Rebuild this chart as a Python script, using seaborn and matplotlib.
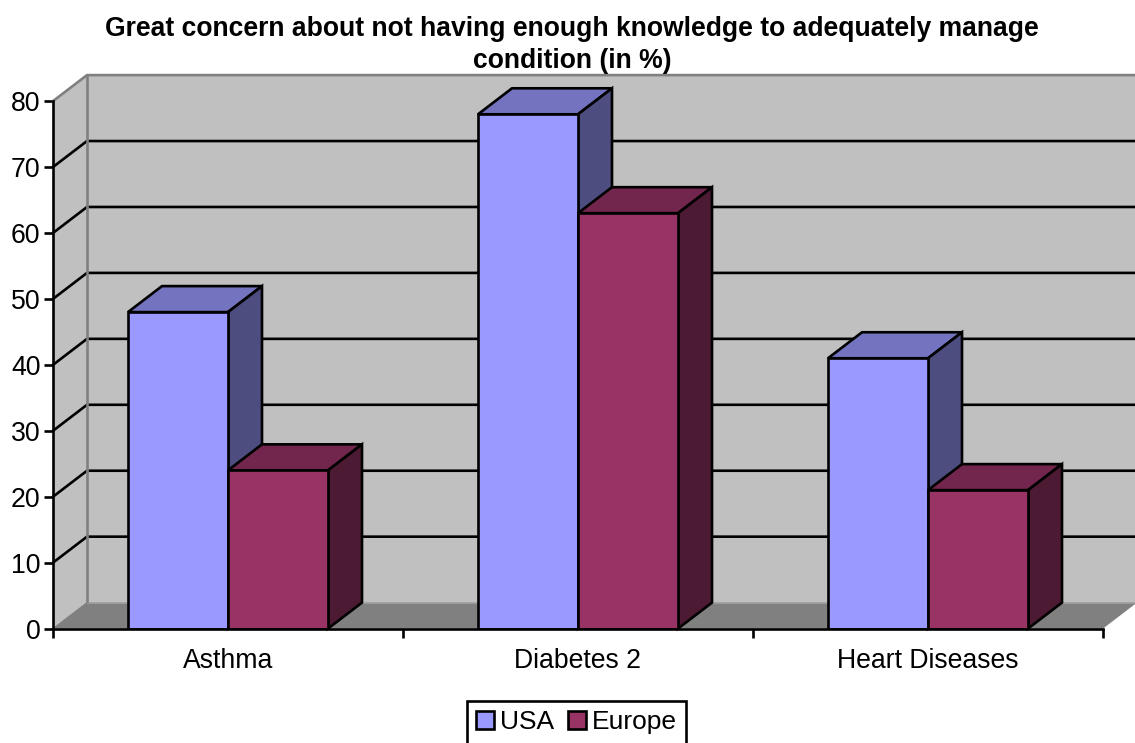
import matplotlib
matplotlib.use("Agg")
import matplotlib.pyplot as plt
from matplotlib.patches import Polygon
import pandas as pd
import seaborn as sns

conditions = ["Asthma", "Diabetes 2", "Heart Diseases"]
usa = [48, 78, 41]
europe = [24, 63, 21]
y_ticks = [0, 10, 20, 30, 40, 50, 60, 70, 80]
title = "Great concern about not having enough knowledge to adequately manage\ncondition (in %)"

FRONT = {"USA": "#9999FF", "Europe": "#993366"}
TOP = {"USA": "#7373BF", "Europe": "#73264D"}
SIDE = {"USA": "#4D4D80", "Europe": "#4D1A33"}
WALL = "#C0C0C0"
FLOOR = "#808080"
EDGE_W = 1.9

sns.set_style("white")
plt.rcParams["font.family"] = ["Liberation Sans", "DejaVu Sans"]
plt.rcParams["text.color"] = "black"
plt.rcParams["xtick.labelcolor"] = "black"
plt.rcParams["ytick.labelcolor"] = "black"

W, H = 1135, 743
fig = plt.figure(figsize=(W / 100, H / 100), dpi=100, facecolor="white")
ax = fig.add_axes([53 / W, (H - 628.6) / H, 1050 / W, 527.5 / H])

df = pd.DataFrame({
    "condition": conditions * 2,
    "pct": usa + europe,
    "region": ["USA"] * 3 + ["Europe"] * 3,
})
sns.barplot(data=df, x="condition", y="pct", hue="region", hue_order=["USA", "Europe"],
            palette=FRONT, saturation=1, width=200 / 350, gap=0, errorbar=None,
            edgecolor="black", linewidth=EDGE_W, ax=ax)

ax.set_xlim(-0.5, 2.5)
ax.set_ylim(0, 80)
ax.patch.set_visible(False)

# Oblique depth of the pseudo-3D box, expressed in data units
dx = 34 / 350
dy = 26 / (527.5 / 80)
x0, x1 = ax.get_xlim()
y0, y1 = ax.get_ylim()

ax.add_patch(Polygon([(x0 + dx, y0 + dy), (x1 + dx, y0 + dy), (x1 + dx, y1 + dy), (x0 + dx, y1 + dy)],
                     fc=WALL, ec="none", clip_on=False, zorder=0.1))
ax.add_patch(Polygon([(x0, y0), (x0 + dx, y0 + dy), (x0 + dx, y1 + dy), (x0, y1)],
                     fc=WALL, ec="none", clip_on=False, zorder=0.1))
ax.add_patch(Polygon([(x0, y0), (x0 + dx, y0 + dy), (x1 + dx, y0 + dy), (x1, y0)],
                     fc=FLOOR, ec="none", clip_on=False, zorder=0.2))

# Gridlines wrap from the side wall onto the back wall
for v in y_ticks[1:-1]:
    ax.plot([x0, x0 + dx, x1 + dx], [v, v + dy, v + dy], color="black", lw=EDGE_W,
            clip_on=False, zorder=0.5, solid_joinstyle="miter")
ax.plot([x0, x0 + dx, x1 + dx], [y1, y1 + dy, y1 + dy], color=FLOOR, lw=EDGE_W, clip_on=False, zorder=0.6)
ax.plot([x0 + dx, x0 + dx], [y0 + dy, y1 + dy], color=FLOOR, lw=EDGE_W, clip_on=False, zorder=0.6)
ax.plot([x0, x0 + dx], [y0, y0 + dy], color=FLOOR, lw=0.8, clip_on=False, zorder=0.6)
ax.plot([x0 + dx, x1 + dx], [y0 + dy, y0 + dy], color="#999999", lw=0.8, clip_on=False, zorder=0.6)

# Extrude every bar: top and side faces come from the bar's own geometry
for i, (container, region) in enumerate(zip(ax.containers, ["USA", "Europe"])):
    for bar in container:
        left, right = bar.get_x(), bar.get_x() + bar.get_width()
        h = bar.get_height()
        bar.set_zorder(4 + 2 * i)
        bar.set_joinstyle("miter")
        ax.add_patch(Polygon([(left, h), (left + dx, h + dy), (right + dx, h + dy), (right, h)],
                             fc=TOP[region], ec="black", lw=EDGE_W, clip_on=False, zorder=3 + 2 * i))
        ax.add_patch(Polygon([(right, 0), (right + dx, dy), (right + dx, h + dy), (right, h)],
                             fc=SIDE[region], ec="black", lw=EDGE_W, clip_on=False, zorder=3 + 2 * i))

sns.despine(ax=ax, top=True, right=True)
for name in ("left", "bottom"):
    ax.spines[name].set_color("black")
    ax.spines[name].set_linewidth(EDGE_W)
    ax.spines[name].set_zorder(20)

ax.set_xlabel("")
ax.set_ylabel("")
ax.set_yticks(y_ticks)
ax.tick_params(axis="y", left=True, length=6.5, width=EDGE_W, color="black", labelsize=19.2, pad=2.5)
ax.set_xticks(range(len(conditions)))
ax.set_xticklabels(conditions)
ax.tick_params(axis="x", which="major", bottom=False, labelsize=19.2, pad=10.5)
ax.set_xticks([x0 + k for k in range(len(conditions) + 1)], minor=True)
ax.tick_params(axis="x", which="minor", bottom=True, length=6.5, width=EDGE_W, color="black")

fig.text(572 / W, 1 - 15.5 / H, title, ha="center", va="top", fontsize=19.1, fontweight="bold",
         color="black", linespacing=1.3)

sns.move_legend(ax, "upper center", bbox_to_anchor=(576.5 / W, 1 - 700.5 / H),
                bbox_transform=fig.transFigure, ncol=2, title=None, frameon=True,
                fontsize=19, fancybox=False, framealpha=1, edgecolor="black",
                handlelength=0.66, handleheight=0.66, handletextpad=0.22, columnspacing=0.55,
                borderpad=0.36, borderaxespad=0)
legend = ax.get_legend()
legend.get_frame().set_linewidth(EDGE_W)
legend.set_zorder(30)
for handle in legend.get_patches():
    handle.set_edgecolor("black")
    handle.set_linewidth(EDGE_W)

fig.savefig("out.png", dpi=100)
